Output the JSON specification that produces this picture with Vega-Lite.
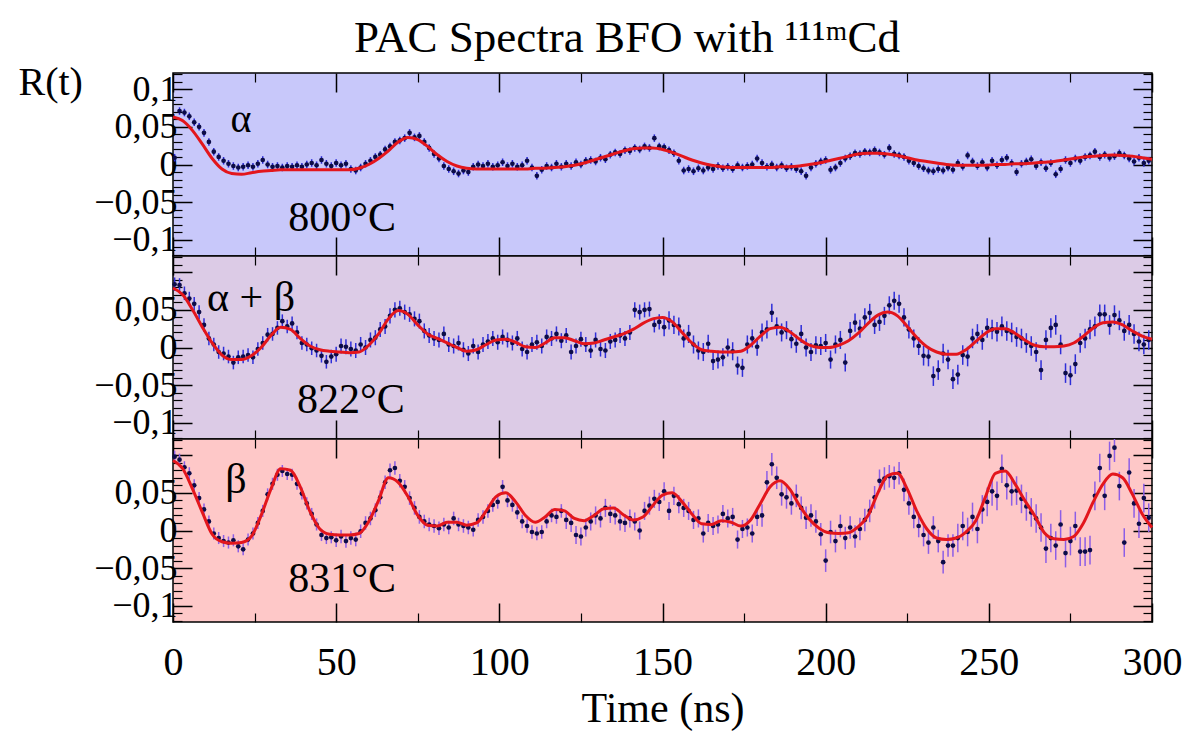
{
"$schema":"https://vega.github.io/schema/vega-lite/v6.json",
"padding":{"left":17,"top":16,"right":6,"bottom":4},
"title":{"text":"PAC Spectra BFO with ¹¹¹ᵐCd","font":"Liberation Serif","fontSize":45,"fontWeight":"normal","color":"black","anchor":"middle","frame":"bounds","offset":-36,"baseline":"alphabetic","dx":27},
"spacing":0,
"bounds":"flush",
"config":{"axis":{"domain":false,"grid":false,"tickColor":"black","labelColor":"black","titleColor":"black","labelFont":"Liberation Serif","titleFont":"Liberation Serif","labelFontWeight":"normal","titleFontWeight":"normal","minExtent":0,"labelOverlap":false,"labelFlush":false,"labelBound":false}},
"datasets":{
"a":[{"t":0.5,"r":0.009,"e":0.005},{"t":2,"r":0.071,"e":0.005},{"t":3.5,"r":0.069,"e":0.005},{"t":5,"r":0.064,"e":0.005},{"t":6.5,"r":0.056,"e":0.005},{"t":8,"r":0.05,"e":0.005},{"t":9.5,"r":0.042,"e":0.005},{"t":11,"r":0.03,"e":0.005},{"t":12.5,"r":0.017,"e":0.005},{"t":14,"r":0.01,"e":0.005},{"t":15.5,"r":0.005,"e":0.005},{"t":17,"r":0.001,"e":0.005},{"t":18.5,"r":-0.002,"e":0.005},{"t":20,"r":-0.004,"e":0.005},{"t":21.5,"r":-0.003,"e":0.005},{"t":23,"r":-0.001,"e":0.005},{"t":24.5,"r":-0.003,"e":0.005},{"t":26,"r":0.001,"e":0.005},{"t":27.5,"r":0.006,"e":0.005},{"t":29,"r":0.0,"e":0.005},{"t":30.5,"r":-0.003,"e":0.005},{"t":32,"r":-0.002,"e":0.005},{"t":33.5,"r":-0.004,"e":0.005},{"t":35,"r":-0.002,"e":0.005},{"t":36.5,"r":-0.003,"e":0.005},{"t":38,"r":-0.001,"e":0.005},{"t":39.5,"r":-0.003,"e":0.005},{"t":41,"r":0.0,"e":0.005},{"t":42.5,"r":0.002,"e":0.005},{"t":44,"r":-0.001,"e":0.005},{"t":45.5,"r":0.006,"e":0.005},{"t":47,"r":0.001,"e":0.005},{"t":48.5,"r":-0.002,"e":0.005},{"t":50,"r":0.002,"e":0.005},{"t":51.5,"r":-0.001,"e":0.005},{"t":53,"r":0.001,"e":0.005},{"t":54.5,"r":-0.006,"e":0.005},{"t":56,"r":-0.008,"e":0.005},{"t":57.5,"r":-0.004,"e":0.005},{"t":59,"r":0.001,"e":0.005},{"t":60.5,"r":0.005,"e":0.005},{"t":62,"r":0.01,"e":0.005},{"t":63.5,"r":0.013,"e":0.005},{"t":65,"r":0.02,"e":0.005},{"t":66.5,"r":0.024,"e":0.005},{"t":68,"r":0.03,"e":0.005},{"t":69.5,"r":0.032,"e":0.005},{"t":71,"r":0.035,"e":0.005},{"t":72.5,"r":0.042,"e":0.005},{"t":74,"r":0.036,"e":0.005},{"t":75.5,"r":0.038,"e":0.005},{"t":77,"r":0.03,"e":0.005},{"t":78.5,"r":0.022,"e":0.005},{"t":80,"r":0.014,"e":0.005},{"t":81.5,"r":0.008,"e":0.005},{"t":83,"r":-0.002,"e":0.005},{"t":84.5,"r":-0.006,"e":0.005},{"t":86,"r":-0.009,"e":0.005},{"t":87.5,"r":-0.012,"e":0.005},{"t":89,"r":-0.008,"e":0.005},{"t":90.5,"r":-0.01,"e":0.005},{"t":92,"r":-0.003,"e":0.005},{"t":93.5,"r":0.0,"e":0.005},{"t":95,"r":-0.002,"e":0.005},{"t":96.5,"r":0.001,"e":0.005},{"t":98,"r":-0.003,"e":0.005},{"t":99.5,"r":-0.001,"e":0.005},{"t":101,"r":0.003,"e":0.005},{"t":102.5,"r":-0.002,"e":0.005},{"t":104,"r":0.001,"e":0.005},{"t":105.5,"r":-0.003,"e":0.005},{"t":107,"r":-0.001,"e":0.005},{"t":108.5,"r":0.005,"e":0.005},{"t":110,"r":-0.004,"e":0.005},{"t":111.5,"r":-0.015,"e":0.005},{"t":113,"r":-0.007,"e":0.005},{"t":114.5,"r":-0.002,"e":0.005},{"t":116,"r":-0.004,"e":0.005},{"t":117.5,"r":0.001,"e":0.005},{"t":119,"r":-0.003,"e":0.005},{"t":120.5,"r":0.001,"e":0.005},{"t":122,"r":-0.002,"e":0.005},{"t":123.5,"r":0.003,"e":0.005},{"t":125,"r":0.0,"e":0.005},{"t":126.5,"r":0.005,"e":0.005},{"t":128,"r":0.006,"e":0.005},{"t":129.5,"r":0.004,"e":0.005},{"t":131,"r":0.009,"e":0.005},{"t":132.5,"r":0.007,"e":0.005},{"t":134,"r":0.013,"e":0.005},{"t":135.5,"r":0.016,"e":0.005},{"t":137,"r":0.014,"e":0.005},{"t":138.5,"r":0.019,"e":0.005},{"t":140,"r":0.018,"e":0.005},{"t":141.5,"r":0.022,"e":0.005},{"t":143,"r":0.02,"e":0.005},{"t":144.5,"r":0.024,"e":0.005},{"t":146,"r":0.022,"e":0.005},{"t":147.5,"r":0.035,"e":0.005},{"t":149,"r":0.024,"e":0.005},{"t":150.5,"r":0.023,"e":0.005},{"t":152,"r":0.019,"e":0.005},{"t":153.5,"r":0.015,"e":0.005},{"t":155,"r":0.005,"e":0.005},{"t":156.5,"r":-0.008,"e":0.005},{"t":158,"r":-0.006,"e":0.005},{"t":159.5,"r":-0.009,"e":0.005},{"t":161,"r":-0.005,"e":0.005},{"t":162.5,"r":-0.008,"e":0.005},{"t":164,"r":-0.004,"e":0.005},{"t":165.5,"r":-0.006,"e":0.005},{"t":167,"r":-0.002,"e":0.005},{"t":168.5,"r":-0.005,"e":0.005},{"t":170,"r":-0.003,"e":0.005},{"t":171.5,"r":-0.006,"e":0.005},{"t":173,"r":-0.001,"e":0.005},{"t":174.5,"r":-0.004,"e":0.005},{"t":176,"r":-0.002,"e":0.005},{"t":177.5,"r":0.0,"e":0.005},{"t":179,"r":0.008,"e":0.005},{"t":180.5,"r":0.002,"e":0.005},{"t":182,"r":-0.003,"e":0.005},{"t":183.5,"r":0.0,"e":0.005},{"t":185,"r":-0.004,"e":0.005},{"t":186.5,"r":-0.001,"e":0.005},{"t":188,"r":-0.005,"e":0.005},{"t":189.5,"r":-0.003,"e":0.005},{"t":191,"r":-0.006,"e":0.005},{"t":192.5,"r":-0.009,"e":0.005},{"t":194,"r":-0.015,"e":0.005},{"t":195.5,"r":-0.004,"e":0.005},{"t":197,"r":0.001,"e":0.005},{"t":198.5,"r":0.004,"e":0.005},{"t":200,"r":0.006,"e":0.005},{"t":201.5,"r":-0.007,"e":0.005},{"t":203,"r":-0.004,"e":0.005},{"t":204.5,"r":0.002,"e":0.005},{"t":206,"r":0.008,"e":0.005},{"t":207.5,"r":0.011,"e":0.005},{"t":209,"r":0.015,"e":0.005},{"t":210.5,"r":0.014,"e":0.005},{"t":212,"r":0.017,"e":0.005},{"t":213.5,"r":0.016,"e":0.005},{"t":215,"r":0.019,"e":0.005},{"t":216.5,"r":0.016,"e":0.005},{"t":218,"r":0.013,"e":0.005},{"t":219.5,"r":0.022,"e":0.005},{"t":221,"r":0.014,"e":0.005},{"t":222.5,"r":0.012,"e":0.005},{"t":224,"r":0.01,"e":0.005},{"t":225.5,"r":0.005,"e":0.005},{"t":227,"r":0.002,"e":0.005},{"t":228.5,"r":-0.002,"e":0.005},{"t":230,"r":-0.005,"e":0.005},{"t":231.5,"r":-0.008,"e":0.005},{"t":233,"r":-0.009,"e":0.005},{"t":234.5,"r":-0.006,"e":0.005},{"t":236,"r":-0.008,"e":0.005},{"t":237.5,"r":-0.004,"e":0.005},{"t":239,"r":-0.007,"e":0.005},{"t":240.5,"r":0.002,"e":0.005},{"t":242,"r":-0.003,"e":0.005},{"t":243.5,"r":0.012,"e":0.005},{"t":245,"r":0.004,"e":0.005},{"t":246.5,"r":-0.002,"e":0.005},{"t":248,"r":0.003,"e":0.005},{"t":249.5,"r":-0.004,"e":0.005},{"t":251,"r":0.005,"e":0.005},{"t":252.5,"r":-0.001,"e":0.005},{"t":254,"r":0.006,"e":0.005},{"t":255.5,"r":0.009,"e":0.005},{"t":257,"r":0.002,"e":0.005},{"t":258.5,"r":-0.01,"e":0.005},{"t":260,"r":0.001,"e":0.005},{"t":261.5,"r":0.004,"e":0.005},{"t":263,"r":0.007,"e":0.005},{"t":264.5,"r":-0.002,"e":0.005},{"t":266,"r":0.003,"e":0.005},{"t":267.5,"r":-0.005,"e":0.005},{"t":269,"r":0.002,"e":0.005},{"t":270.5,"r":-0.013,"e":0.005},{"t":272,"r":-0.006,"e":0.005},{"t":273.5,"r":0.006,"e":0.005},{"t":275,"r":0.002,"e":0.005},{"t":276.5,"r":0.008,"e":0.005},{"t":278,"r":0.005,"e":0.005},{"t":279.5,"r":0.01,"e":0.005},{"t":281,"r":0.012,"e":0.005},{"t":282.5,"r":0.017,"e":0.005},{"t":284,"r":0.01,"e":0.005},{"t":285.5,"r":0.013,"e":0.005},{"t":287,"r":0.009,"e":0.005},{"t":288.5,"r":0.011,"e":0.005},{"t":290,"r":0.015,"e":0.005},{"t":291.5,"r":0.012,"e":0.005},{"t":293,"r":0.008,"e":0.005},{"t":294.5,"r":0.004,"e":0.005},{"t":296,"r":0.009,"e":0.005},{"t":297.5,"r":0.002,"e":0.005},{"t":299,"r":0.005,"e":0.005}],
"fa":[{"t":0,"r":0.063},{"t":3,"r":0.058},{"t":6,"r":0.045},{"t":9,"r":0.027},{"t":12,"r":0.008},{"t":15,"r":-0.006},{"t":18,"r":-0.012},{"t":21,"r":-0.013},{"t":24,"r":-0.011},{"t":27,"r":-0.009},{"t":30,"r":-0.008},{"t":33,"r":-0.007},{"t":36,"r":-0.007},{"t":39,"r":-0.007},{"t":42,"r":-0.007},{"t":45,"r":-0.007},{"t":48,"r":-0.007},{"t":51,"r":-0.007},{"t":54,"r":-0.007},{"t":57,"r":-0.005},{"t":60,"r":0.0},{"t":63,"r":0.008},{"t":66,"r":0.018},{"t":69,"r":0.03},{"t":72,"r":0.036},{"t":75,"r":0.033},{"t":78,"r":0.024},{"t":81,"r":0.013},{"t":84,"r":0.004},{"t":87,"r":-0.002},{"t":90,"r":-0.005},{"t":93,"r":-0.006},{"t":96,"r":-0.006},{"t":99,"r":-0.006},{"t":102,"r":-0.006},{"t":105,"r":-0.006},{"t":108,"r":-0.006},{"t":111,"r":-0.005},{"t":114,"r":-0.005},{"t":117,"r":-0.004},{"t":120,"r":-0.003},{"t":123,"r":-0.001},{"t":126,"r":0.002},{"t":129,"r":0.006},{"t":132,"r":0.01},{"t":135,"r":0.014},{"t":138,"r":0.018},{"t":141,"r":0.021},{"t":144,"r":0.022},{"t":147,"r":0.022},{"t":150,"r":0.02},{"t":153,"r":0.016},{"t":156,"r":0.011},{"t":159,"r":0.006},{"t":162,"r":0.002},{"t":165,"r":-0.001},{"t":168,"r":-0.003},{"t":171,"r":-0.004},{"t":174,"r":-0.004},{"t":177,"r":-0.004},{"t":180,"r":-0.004},{"t":183,"r":-0.004},{"t":186,"r":-0.003},{"t":189,"r":-0.003},{"t":192,"r":-0.002},{"t":195,"r":0.0},{"t":198,"r":0.002},{"t":201,"r":0.005},{"t":204,"r":0.008},{"t":207,"r":0.011},{"t":210,"r":0.014},{"t":213,"r":0.015},{"t":216,"r":0.015},{"t":219,"r":0.014},{"t":222,"r":0.012},{"t":225,"r":0.009},{"t":228,"r":0.006},{"t":231,"r":0.004},{"t":234,"r":0.002},{"t":237,"r":0.0},{"t":240,"r":-0.001},{"t":243,"r":-0.001},{"t":246,"r":-0.001},{"t":249,"r":-0.001},{"t":252,"r":0.0},{"t":255,"r":0.0},{"t":258,"r":0.001},{"t":261,"r":0.001},{"t":264,"r":0.002},{"t":267,"r":0.003},{"t":270,"r":0.004},{"t":273,"r":0.006},{"t":276,"r":0.008},{"t":279,"r":0.01},{"t":282,"r":0.011},{"t":285,"r":0.012},{"t":288,"r":0.0125},{"t":291,"r":0.012},{"t":294,"r":0.011},{"t":297,"r":0.009},{"t":300,"r":0.007}],
"ab":[{"t":0.5,"r":0.084,"e":0.009},{"t":2,"r":0.083,"e":0.009},{"t":3.5,"r":0.072,"e":0.009},{"t":5,"r":0.065,"e":0.009},{"t":6.5,"r":0.058,"e":0.009},{"t":8,"r":0.047,"e":0.009},{"t":9.5,"r":0.03,"e":0.009},{"t":11,"r":0.012,"e":0.009},{"t":12.5,"r":0.004,"e":0.009},{"t":14,"r":-0.006,"e":0.009},{"t":15.5,"r":-0.008,"e":0.009},{"t":17,"r":-0.012,"e":0.009},{"t":18.5,"r":-0.02,"e":0.009},{"t":20,"r":-0.013,"e":0.009},{"t":21.5,"r":-0.012,"e":0.009},{"t":23,"r":-0.01,"e":0.009},{"t":24.5,"r":-0.013,"e":0.009},{"t":26,"r":-0.002,"e":0.009},{"t":27.5,"r":0.006,"e":0.009},{"t":29,"r":0.017,"e":0.009},{"t":30.5,"r":0.018,"e":0.009},{"t":32,"r":0.026,"e":0.009},{"t":33.5,"r":0.035,"e":0.009},{"t":35,"r":0.028,"e":0.009},{"t":36.5,"r":0.032,"e":0.009},{"t":38,"r":0.02,"e":0.009},{"t":39.5,"r":0.006,"e":0.009},{"t":41,"r":0.004,"e":0.009},{"t":42.5,"r":-0.001,"e":0.009},{"t":44,"r":-0.004,"e":0.009},{"t":45.5,"r":-0.011,"e":0.009},{"t":47,"r":-0.019,"e":0.009},{"t":48.5,"r":-0.012,"e":0.009},{"t":50,"r":-0.009,"e":0.01},{"t":51.5,"r":0.002,"e":0.01},{"t":53,"r":0.001,"e":0.01},{"t":54.5,"r":-0.002,"e":0.01},{"t":56,"r":-0.004,"e":0.01},{"t":57.5,"r":0.004,"e":0.01},{"t":59,"r":0.0,"e":0.01},{"t":60.5,"r":0.01,"e":0.01},{"t":62,"r":0.013,"e":0.01},{"t":63.5,"r":0.024,"e":0.01},{"t":65,"r":0.028,"e":0.01},{"t":66.5,"r":0.042,"e":0.01},{"t":68,"r":0.05,"e":0.01},{"t":69.5,"r":0.052,"e":0.01},{"t":71,"r":0.047,"e":0.01},{"t":72.5,"r":0.044,"e":0.01},{"t":74,"r":0.038,"e":0.01},{"t":75.5,"r":0.035,"e":0.01},{"t":77,"r":0.022,"e":0.01},{"t":78.5,"r":0.016,"e":0.01},{"t":80,"r":0.012,"e":0.01},{"t":81.5,"r":0.01,"e":0.01},{"t":83,"r":0.018,"e":0.01},{"t":84.5,"r":0.004,"e":0.01},{"t":86,"r":0.002,"e":0.01},{"t":87.5,"r":0.006,"e":0.01},{"t":89,"r":-0.003,"e":0.01},{"t":90.5,"r":-0.008,"e":0.01},{"t":92,"r":0.002,"e":0.01},{"t":93.5,"r":-0.006,"e":0.01},{"t":95,"r":0.004,"e":0.01},{"t":96.5,"r":0.008,"e":0.01},{"t":98,"r":0.012,"e":0.01},{"t":99.5,"r":0.007,"e":0.01},{"t":101,"r":0.014,"e":0.01},{"t":102.5,"r":0.01,"e":0.01},{"t":104,"r":0.006,"e":0.01},{"t":105.5,"r":0.012,"e":0.01},{"t":107,"r":-0.002,"e":0.01},{"t":108.5,"r":-0.006,"e":0.01},{"t":110,"r":0.004,"e":0.01},{"t":111.5,"r":0.007,"e":0.01},{"t":113,"r":0.002,"e":0.01},{"t":114.5,"r":0.014,"e":0.01},{"t":116,"r":0.012,"e":0.01},{"t":117.5,"r":0.018,"e":0.01},{"t":119,"r":0.009,"e":0.01},{"t":120.5,"r":0.016,"e":0.01},{"t":122,"r":-0.006,"e":0.01},{"t":123.5,"r":0.002,"e":0.01},{"t":125,"r":0.011,"e":0.01},{"t":126.5,"r":0.004,"e":0.01},{"t":128,"r":-0.004,"e":0.01},{"t":129.5,"r":0.01,"e":0.01},{"t":131,"r":-0.002,"e":0.01},{"t":132.5,"r":-0.004,"e":0.01},{"t":134,"r":0.008,"e":0.01},{"t":135.5,"r":0.01,"e":0.01},{"t":137,"r":0.016,"e":0.01},{"t":138.5,"r":0.012,"e":0.01},{"t":140,"r":0.02,"e":0.01},{"t":141.5,"r":0.05,"e":0.01},{"t":143,"r":0.047,"e":0.01},{"t":144.5,"r":0.05,"e":0.01},{"t":146,"r":0.051,"e":0.01},{"t":147.5,"r":0.03,"e":0.01},{"t":149,"r":0.034,"e":0.01},{"t":150.5,"r":0.027,"e":0.012},{"t":152,"r":0.036,"e":0.012},{"t":153.5,"r":0.03,"e":0.012},{"t":155,"r":0.028,"e":0.012},{"t":156.5,"r":0.012,"e":0.012},{"t":158,"r":0.018,"e":0.012},{"t":159.5,"r":0.004,"e":0.012},{"t":161,"r":-0.004,"e":0.012},{"t":162.5,"r":-0.006,"e":0.012},{"t":164,"r":0.005,"e":0.012},{"t":165.5,"r":-0.018,"e":0.012},{"t":167,"r":-0.016,"e":0.012},{"t":168.5,"r":-0.013,"e":0.012},{"t":170,"r":0.0,"e":0.012},{"t":171.5,"r":-0.005,"e":0.012},{"t":173,"r":-0.024,"e":0.012},{"t":174.5,"r":-0.027,"e":0.012},{"t":176,"r":0.004,"e":0.012},{"t":177.5,"r":0.012,"e":0.012},{"t":179,"r":0.001,"e":0.012},{"t":180.5,"r":0.02,"e":0.012},{"t":182,"r":0.024,"e":0.012},{"t":183.5,"r":0.046,"e":0.012},{"t":185,"r":0.028,"e":0.012},{"t":186.5,"r":0.02,"e":0.012},{"t":188,"r":0.023,"e":0.012},{"t":189.5,"r":0.011,"e":0.012},{"t":191,"r":0.005,"e":0.012},{"t":192.5,"r":0.018,"e":0.012},{"t":194,"r":0.0,"e":0.012},{"t":195.5,"r":-0.006,"e":0.012},{"t":197,"r":0.003,"e":0.012},{"t":198.5,"r":0.002,"e":0.012},{"t":200,"r":0.006,"e":0.012},{"t":201.5,"r":-0.016,"e":0.012},{"t":203,"r":0.004,"e":0.012},{"t":204.5,"r":0.01,"e":0.012},{"t":206,"r":-0.02,"e":0.012},{"t":207.5,"r":0.022,"e":0.012},{"t":209,"r":0.033,"e":0.012},{"t":210.5,"r":0.025,"e":0.012},{"t":212,"r":0.04,"e":0.012},{"t":213.5,"r":0.046,"e":0.012},{"t":215,"r":0.03,"e":0.012},{"t":216.5,"r":0.034,"e":0.012},{"t":218,"r":0.042,"e":0.012},{"t":219.5,"r":0.056,"e":0.012},{"t":221,"r":0.062,"e":0.012},{"t":222.5,"r":0.058,"e":0.012},{"t":224,"r":0.04,"e":0.012},{"t":225.5,"r":0.024,"e":0.012},{"t":227,"r":0.012,"e":0.012},{"t":228.5,"r":0.002,"e":0.012},{"t":230,"r":-0.011,"e":0.013},{"t":231.5,"r":-0.012,"e":0.013},{"t":233,"r":-0.038,"e":0.013},{"t":234.5,"r":-0.03,"e":0.013},{"t":236,"r":-0.008,"e":0.013},{"t":237.5,"r":-0.016,"e":0.013},{"t":239,"r":-0.042,"e":0.013},{"t":240.5,"r":-0.036,"e":0.013},{"t":242,"r":-0.01,"e":0.013},{"t":243.5,"r":-0.012,"e":0.013},{"t":245,"r":0.012,"e":0.013},{"t":246.5,"r":0.018,"e":0.013},{"t":248,"r":0.01,"e":0.013},{"t":249.5,"r":0.026,"e":0.013},{"t":251,"r":0.024,"e":0.013},{"t":252.5,"r":0.021,"e":0.013},{"t":254,"r":0.028,"e":0.013},{"t":255.5,"r":0.022,"e":0.013},{"t":257,"r":0.02,"e":0.013},{"t":258.5,"r":0.014,"e":0.013},{"t":260,"r":0.012,"e":0.013},{"t":261.5,"r":0.006,"e":0.013},{"t":263,"r":0.002,"e":0.013},{"t":264.5,"r":-0.006,"e":0.013},{"t":266,"r":-0.03,"e":0.013},{"t":267.5,"r":0.01,"e":0.013},{"t":269,"r":0.026,"e":0.013},{"t":270.5,"r":0.03,"e":0.013},{"t":272,"r":0.004,"e":0.013},{"t":273.5,"r":-0.034,"e":0.013},{"t":275,"r":-0.037,"e":0.013},{"t":276.5,"r":-0.022,"e":0.013},{"t":278,"r":0.006,"e":0.013},{"t":279.5,"r":0.012,"e":0.013},{"t":281,"r":0.024,"e":0.013},{"t":282.5,"r":0.028,"e":0.013},{"t":284,"r":0.044,"e":0.013},{"t":285.5,"r":0.044,"e":0.013},{"t":287,"r":0.03,"e":0.013},{"t":288.5,"r":0.043,"e":0.013},{"t":290,"r":0.036,"e":0.013},{"t":291.5,"r":0.022,"e":0.013},{"t":293,"r":0.03,"e":0.013},{"t":294.5,"r":0.018,"e":0.013},{"t":296,"r":0.008,"e":0.013},{"t":297.5,"r":0.004,"e":0.013},{"t":299,"r":0.01,"e":0.013}],
"fab":[{"t":0,"r":0.079},{"t":3,"r":0.07},{"t":6,"r":0.05},{"t":9,"r":0.027},{"t":12,"r":0.006},{"t":15,"r":-0.01},{"t":18,"r":-0.016},{"t":21,"r":-0.016},{"t":24,"r":-0.011},{"t":27,"r":0.0},{"t":30,"r":0.016},{"t":33,"r":0.027},{"t":36,"r":0.024},{"t":39,"r":0.012},{"t":42,"r":0.002},{"t":45,"r":-0.003},{"t":48,"r":-0.005},{"t":51,"r":-0.006},{"t":54,"r":-0.007},{"t":57,"r":-0.006},{"t":60,"r":0.003},{"t":63,"r":0.018},{"t":66,"r":0.038},{"t":69,"r":0.049},{"t":72,"r":0.044},{"t":75,"r":0.03},{"t":78,"r":0.018},{"t":81,"r":0.012},{"t":84,"r":0.006},{"t":87,"r":0.0},{"t":90,"r":-0.005},{"t":93,"r":-0.003},{"t":96,"r":0.004},{"t":99,"r":0.01},{"t":102,"r":0.011},{"t":105,"r":0.007},{"t":108,"r":0.001},{"t":111,"r":0.0},{"t":114,"r":0.006},{"t":117,"r":0.013},{"t":120,"r":0.013},{"t":123,"r":0.009},{"t":126,"r":0.005},{"t":129,"r":0.006},{"t":132,"r":0.01},{"t":135,"r":0.014},{"t":138,"r":0.018},{"t":141,"r":0.024},{"t":144,"r":0.032},{"t":147,"r":0.038},{"t":150,"r":0.04},{"t":153,"r":0.034},{"t":156,"r":0.02},{"t":159,"r":0.006},{"t":162,"r":-0.003},{"t":165,"r":-0.005},{"t":168,"r":-0.006},{"t":171,"r":-0.006},{"t":174,"r":-0.005},{"t":177,"r":0.003},{"t":180,"r":0.015},{"t":183,"r":0.025},{"t":186,"r":0.027},{"t":189,"r":0.021},{"t":192,"r":0.011},{"t":195,"r":0.003},{"t":198,"r":0.0},{"t":201,"r":0.0},{"t":204,"r":0.003},{"t":207,"r":0.009},{"t":210,"r":0.019},{"t":213,"r":0.032},{"t":216,"r":0.043},{"t":219,"r":0.047},{"t":222,"r":0.042},{"t":225,"r":0.028},{"t":228,"r":0.013},{"t":231,"r":0.001},{"t":234,"r":-0.006},{"t":237,"r":-0.009},{"t":240,"r":-0.009},{"t":243,"r":-0.003},{"t":246,"r":0.008},{"t":249,"r":0.019},{"t":252,"r":0.025},{"t":255,"r":0.025},{"t":258,"r":0.019},{"t":261,"r":0.01},{"t":264,"r":0.003},{"t":267,"r":0.001},{"t":270,"r":0.001},{"t":273,"r":0.002},{"t":276,"r":0.006},{"t":279,"r":0.015},{"t":282,"r":0.026},{"t":285,"r":0.033},{"t":288,"r":0.034},{"t":291,"r":0.03},{"t":294,"r":0.022},{"t":297,"r":0.015},{"t":300,"r":0.011}],
"b":[{"t":0.5,"r":0.098,"e":0.008},{"t":2,"r":0.094,"e":0.008},{"t":3.5,"r":0.084,"e":0.008},{"t":5,"r":0.076,"e":0.008},{"t":6.5,"r":0.06,"e":0.008},{"t":8,"r":0.043,"e":0.008},{"t":9.5,"r":0.028,"e":0.008},{"t":11,"r":0.012,"e":0.008},{"t":12.5,"r":-0.004,"e":0.008},{"t":14,"r":-0.01,"e":0.008},{"t":15.5,"r":-0.014,"e":0.008},{"t":17,"r":-0.016,"e":0.008},{"t":18.5,"r":-0.013,"e":0.008},{"t":20,"r":-0.021,"e":0.008},{"t":21.5,"r":-0.025,"e":0.008},{"t":23,"r":-0.012,"e":0.008},{"t":24.5,"r":-0.004,"e":0.008},{"t":26,"r":0.01,"e":0.008},{"t":27.5,"r":0.026,"e":0.008},{"t":29,"r":0.048,"e":0.008},{"t":30.5,"r":0.062,"e":0.008},{"t":32,"r":0.074,"e":0.008},{"t":33.5,"r":0.079,"e":0.008},{"t":35,"r":0.075,"e":0.008},{"t":36.5,"r":0.074,"e":0.008},{"t":38,"r":0.062,"e":0.008},{"t":39.5,"r":0.049,"e":0.008},{"t":41,"r":0.036,"e":0.008},{"t":42.5,"r":0.022,"e":0.008},{"t":44,"r":0.008,"e":0.008},{"t":45.5,"r":-0.006,"e":0.008},{"t":47,"r":-0.01,"e":0.008},{"t":48.5,"r":-0.009,"e":0.008},{"t":50,"r":-0.013,"e":0.009},{"t":51.5,"r":-0.008,"e":0.009},{"t":53,"r":-0.014,"e":0.009},{"t":54.5,"r":-0.01,"e":0.009},{"t":56,"r":-0.012,"e":0.009},{"t":57.5,"r":-0.001,"e":0.009},{"t":59,"r":0.01,"e":0.009},{"t":60.5,"r":0.016,"e":0.009},{"t":62,"r":0.027,"e":0.009},{"t":63.5,"r":0.044,"e":0.009},{"t":65,"r":0.064,"e":0.009},{"t":66.5,"r":0.08,"e":0.009},{"t":68,"r":0.083,"e":0.009},{"t":69.5,"r":0.066,"e":0.009},{"t":71,"r":0.058,"e":0.009},{"t":72.5,"r":0.043,"e":0.009},{"t":74,"r":0.03,"e":0.009},{"t":75.5,"r":0.018,"e":0.009},{"t":77,"r":0.012,"e":0.009},{"t":78.5,"r":0.008,"e":0.009},{"t":80,"r":0.006,"e":0.009},{"t":81.5,"r":0.003,"e":0.009},{"t":83,"r":0.008,"e":0.009},{"t":84.5,"r":0.004,"e":0.009},{"t":86,"r":0.016,"e":0.009},{"t":87.5,"r":0.008,"e":0.009},{"t":89,"r":0.006,"e":0.009},{"t":90.5,"r":0.004,"e":0.009},{"t":92,"r":0.001,"e":0.009},{"t":93.5,"r":0.014,"e":0.009},{"t":95,"r":0.018,"e":0.009},{"t":96.5,"r":0.026,"e":0.009},{"t":98,"r":0.034,"e":0.009},{"t":99.5,"r":0.038,"e":0.009},{"t":101,"r":0.058,"e":0.009},{"t":102.5,"r":0.04,"e":0.009},{"t":104,"r":0.034,"e":0.009},{"t":105.5,"r":0.024,"e":0.009},{"t":107,"r":0.012,"e":0.009},{"t":108.5,"r":0.006,"e":0.009},{"t":110,"r":-0.002,"e":0.009},{"t":111.5,"r":-0.004,"e":0.009},{"t":113,"r":-0.002,"e":0.009},{"t":114.5,"r":0.012,"e":0.009},{"t":116,"r":0.02,"e":0.009},{"t":117.5,"r":0.018,"e":0.009},{"t":119,"r":0.026,"e":0.009},{"t":120.5,"r":0.014,"e":0.012},{"t":122,"r":0.01,"e":0.012},{"t":123.5,"r":-0.006,"e":0.012},{"t":125,"r":-0.008,"e":0.012},{"t":126.5,"r":0.004,"e":0.012},{"t":128,"r":0.012,"e":0.012},{"t":129.5,"r":0.02,"e":0.012},{"t":131,"r":0.016,"e":0.012},{"t":132.5,"r":0.03,"e":0.012},{"t":134,"r":0.022,"e":0.012},{"t":135.5,"r":0.02,"e":0.012},{"t":137,"r":0.012,"e":0.012},{"t":138.5,"r":0.01,"e":0.012},{"t":140,"r":0.016,"e":0.012},{"t":141.5,"r":0.012,"e":0.012},{"t":143,"r":0.0,"e":0.012},{"t":144.5,"r":0.026,"e":0.012},{"t":146,"r":0.033,"e":0.012},{"t":147.5,"r":0.042,"e":0.012},{"t":149,"r":0.038,"e":0.012},{"t":150.5,"r":0.052,"e":0.012},{"t":152,"r":0.026,"e":0.012},{"t":153.5,"r":0.046,"e":0.012},{"t":155,"r":0.035,"e":0.012},{"t":156.5,"r":0.03,"e":0.012},{"t":158,"r":0.026,"e":0.012},{"t":159.5,"r":0.014,"e":0.012},{"t":161,"r":0.016,"e":0.012},{"t":162.5,"r":-0.004,"e":0.012},{"t":164,"r":0.01,"e":0.012},{"t":165.5,"r":0.006,"e":0.012},{"t":167,"r":0.008,"e":0.012},{"t":168.5,"r":0.022,"e":0.012},{"t":170,"r":0.016,"e":0.012},{"t":171.5,"r":0.018,"e":0.012},{"t":173,"r":-0.012,"e":0.012},{"t":174.5,"r":0.002,"e":0.012},{"t":176,"r":0.004,"e":0.012},{"t":177.5,"r":-0.004,"e":0.012},{"t":179,"r":0.018,"e":0.012},{"t":180.5,"r":0.02,"e":0.015},{"t":182,"r":0.064,"e":0.015},{"t":183.5,"r":0.088,"e":0.015},{"t":185,"r":0.07,"e":0.015},{"t":186.5,"r":0.048,"e":0.015},{"t":188,"r":0.044,"e":0.015},{"t":189.5,"r":0.036,"e":0.015},{"t":191,"r":0.046,"e":0.015},{"t":192.5,"r":0.03,"e":0.015},{"t":194,"r":0.017,"e":0.015},{"t":195.5,"r":0.02,"e":0.015},{"t":197,"r":0.012,"e":0.015},{"t":198.5,"r":-0.005,"e":0.015},{"t":200,"r":-0.04,"e":0.015},{"t":201.5,"r":-0.002,"e":0.015},{"t":203,"r":-0.014,"e":0.015},{"t":204.5,"r":0.006,"e":0.015},{"t":206,"r":-0.01,"e":0.015},{"t":207.5,"r":0.004,"e":0.015},{"t":209,"r":-0.008,"e":0.015},{"t":210.5,"r":0.002,"e":0.015},{"t":212,"r":0.014,"e":0.015},{"t":213.5,"r":0.026,"e":0.015},{"t":215,"r":0.044,"e":0.015},{"t":216.5,"r":0.066,"e":0.015},{"t":218,"r":0.069,"e":0.015},{"t":219.5,"r":0.072,"e":0.015},{"t":221,"r":0.07,"e":0.015},{"t":222.5,"r":0.076,"e":0.015},{"t":224,"r":0.054,"e":0.015},{"t":225.5,"r":0.036,"e":0.015},{"t":227,"r":0.018,"e":0.015},{"t":228.5,"r":0.006,"e":0.015},{"t":230,"r":-0.006,"e":0.015},{"t":231.5,"r":-0.016,"e":0.015},{"t":233,"r":0.004,"e":0.015},{"t":234.5,"r":-0.014,"e":0.015},{"t":236,"r":-0.042,"e":0.015},{"t":237.5,"r":-0.02,"e":0.015},{"t":239,"r":-0.02,"e":0.015},{"t":240.5,"r":-0.01,"e":0.019},{"t":242,"r":0.006,"e":0.019},{"t":243.5,"r":-0.002,"e":0.019},{"t":245,"r":0.018,"e":0.019},{"t":246.5,"r":0.002,"e":0.019},{"t":248,"r":0.028,"e":0.019},{"t":249.5,"r":0.038,"e":0.019},{"t":251,"r":0.052,"e":0.019},{"t":252.5,"r":0.046,"e":0.019},{"t":254,"r":0.082,"e":0.019},{"t":255.5,"r":0.06,"e":0.019},{"t":257,"r":0.052,"e":0.019},{"t":258.5,"r":0.053,"e":0.019},{"t":260,"r":0.042,"e":0.019},{"t":261.5,"r":0.032,"e":0.019},{"t":263,"r":0.024,"e":0.019},{"t":264.5,"r":0.016,"e":0.019},{"t":266,"r":0.004,"e":0.019},{"t":267.5,"r":-0.024,"e":0.019},{"t":269,"r":-0.01,"e":0.019},{"t":270.5,"r":-0.02,"e":0.019},{"t":272,"r":0.008,"e":0.019},{"t":273.5,"r":-0.03,"e":0.019},{"t":275,"r":-0.014,"e":0.019},{"t":276.5,"r":0.006,"e":0.019},{"t":278,"r":-0.028,"e":0.019},{"t":279.5,"r":-0.028,"e":0.019},{"t":281,"r":-0.026,"e":0.019},{"t":282.5,"r":0.046,"e":0.019},{"t":284,"r":0.083,"e":0.019},{"t":285.5,"r":0.046,"e":0.019},{"t":287,"r":0.099,"e":0.019},{"t":288.5,"r":0.11,"e":0.019},{"t":290,"r":0.059,"e":0.019},{"t":291.5,"r":-0.016,"e":0.019},{"t":293,"r":0.077,"e":0.019},{"t":294.5,"r":0.036,"e":0.019},{"t":296,"r":0.009,"e":0.019},{"t":297.5,"r":0.043,"e":0.019},{"t":299,"r":0.017,"e":0.019}],
"fb":[{"t":0,"r":0.093},{"t":3,"r":0.082},{"t":6,"r":0.055},{"t":9,"r":0.024},{"t":12,"r":-0.005},{"t":15,"r":-0.015},{"t":18,"r":-0.017},{"t":21,"r":-0.016},{"t":24,"r":-0.008},{"t":27,"r":0.02},{"t":30,"r":0.055},{"t":33,"r":0.082},{"t":36,"r":0.08},{"t":39,"r":0.058},{"t":42,"r":0.025},{"t":45,"r":0.002},{"t":48,"r":-0.005},{"t":51,"r":-0.006},{"t":54,"r":-0.006},{"t":57,"r":-0.004},{"t":60,"r":0.012},{"t":63,"r":0.04},{"t":66,"r":0.07},{"t":69,"r":0.064},{"t":72,"r":0.045},{"t":75,"r":0.02},{"t":78,"r":0.007},{"t":81,"r":0.006},{"t":84,"r":0.011},{"t":87,"r":0.011},{"t":90,"r":0.007},{"t":93,"r":0.01},{"t":96,"r":0.026},{"t":99,"r":0.045},{"t":102,"r":0.05},{"t":105,"r":0.038},{"t":108,"r":0.02},{"t":111,"r":0.011},{"t":114,"r":0.018},{"t":117,"r":0.028},{"t":120,"r":0.026},{"t":123,"r":0.016},{"t":126,"r":0.013},{"t":129,"r":0.02},{"t":132,"r":0.029},{"t":135,"r":0.03},{"t":138,"r":0.021},{"t":141,"r":0.014},{"t":144,"r":0.018},{"t":147,"r":0.033},{"t":150,"r":0.047},{"t":153,"r":0.05},{"t":156,"r":0.038},{"t":159,"r":0.022},{"t":162,"r":0.009},{"t":165,"r":0.008},{"t":168,"r":0.013},{"t":171,"r":0.011},{"t":174,"r":0.006},{"t":177,"r":0.014},{"t":180,"r":0.036},{"t":183,"r":0.058},{"t":186,"r":0.066},{"t":189,"r":0.055},{"t":192,"r":0.033},{"t":195,"r":0.015},{"t":198,"r":0.003},{"t":201,"r":-0.003},{"t":204,"r":-0.004},{"t":207,"r":-0.003},{"t":210,"r":0.005},{"t":213,"r":0.02},{"t":216,"r":0.05},{"t":219,"r":0.073},{"t":222,"r":0.076},{"t":225,"r":0.055},{"t":228,"r":0.025},{"t":231,"r":0.002},{"t":234,"r":-0.01},{"t":237,"r":-0.012},{"t":240,"r":-0.01},{"t":243,"r":-0.002},{"t":246,"r":0.013},{"t":249,"r":0.045},{"t":252,"r":0.076},{"t":255,"r":0.079},{"t":258,"r":0.062},{"t":261,"r":0.04},{"t":264,"r":0.02},{"t":267,"r":-0.003},{"t":270,"r":-0.011},{"t":273,"r":-0.012},{"t":276,"r":-0.008},{"t":279,"r":0.01},{"t":282,"r":0.038},{"t":285,"r":0.062},{"t":288,"r":0.075},{"t":291,"r":0.07},{"t":294,"r":0.048},{"t":297,"r":0.022},{"t":300,"r":0.004}]
},
"vconcat":[
{"width":979,"height":183,"view":{"fill":"#c8c8fa","stroke":"black","strokeWidth":1.5},
"layer":[
{"data":{"name":"a"},"mark":{"type":"errorbar","color":"#2a2ad8","thickness":1.5,"clip":true},
"encoding":{"x":{"field":"t","type":"quantitative","scale":{"domain":[0,300],"nice":false,"zero":false},"axis":null},"y":{"field":"r","type":"quantitative","scale":{"domain":[-0.1215,0.1215],"nice":false,"zero":false},"axis":null},"yError":{"field":"e"}}},
{"data":{"name":"a"},"mark":{"type":"circle","size":22,"color":"#0c0c48","opacity":1},
"encoding":{"x":{"field":"t","type":"quantitative","scale":{"domain":[0,300],"nice":false,"zero":false},"axis":{"orient":"bottom","values":[0,50,100,150,200,250,300],"tickSize":-19,"tickWidth":1.5,"labels":false,"title":null}},
"y":{"field":"r","type":"quantitative","scale":{"domain":[-0.1215,0.1215],"nice":false,"zero":false},"axis":{"orient":"left","values":[-0.1,-0.05,0,0.05,0.1],"tickSize":-19,"tickWidth":1.5,"labelFontSize":36,"labelPadding":15,"labelBaseline":"middle","labelExpr":"replace(format(datum.value, '.2~f'), '.', ',')","title":"R(t)","titleAngle":0,"titleAlign":"left","titleBaseline":"alphabetic","titleX":-155,"titleY":21,"titleFontSize":40}}}},
{"data":{"name":"fa"},"mark":{"type":"line","color":"#e3161c","strokeWidth":3,"interpolate":"monotone"},
"encoding":{"x":{"field":"t","type":"quantitative","scale":{"domain":[0,300],"nice":false,"zero":false},"axis":{"orient":"bottom","values":[25,75,125,175,225,275],"tickSize":-9,"tickWidth":1.2,"labels":false,"title":null}},
"y":{"field":"r","type":"quantitative","scale":{"domain":[-0.1215,0.1215],"nice":false,"zero":false},"axis":{"orient":"left","values":[-0.12,-0.11,-0.09,-0.08,-0.07,-0.06,-0.04,-0.03,-0.02,-0.01,0.01,0.02,0.03,0.04,0.06,0.07,0.08,0.09,0.11,0.12],"tickSize":-9,"tickWidth":1.2,"labels":false,"title":null}}}},
{"data":{"values":[{}]},"mark":{"type":"text","text":"α","font":"Liberation Serif","fontSize":40,"color":"black"},
"encoding":{"x":{"datum":20.8,"type":"quantitative","scale":{"domain":[0,300],"nice":false,"zero":false},"axis":{"orient":"top","values":[0,50,100,150,200,250,300],"tickSize":-19,"tickWidth":1.5,"labels":false,"title":null}},
"y":{"datum":0.059,"type":"quantitative","scale":{"domain":[-0.1215,0.1215],"nice":false,"zero":false},"axis":{"orient":"right","values":[-0.1,-0.05,0,0.05,0.1],"tickSize":-19,"tickWidth":1.5,"labels":false,"title":null}}}},
{"data":{"values":[{}]},"mark":{"type":"text","text":"800°C","font":"Liberation Serif","fontSize":42,"color":"black"},
"encoding":{"x":{"datum":51.8,"type":"quantitative","scale":{"domain":[0,300],"nice":false,"zero":false},"axis":{"orient":"top","values":[25,75,125,175,225,275],"tickSize":-9,"tickWidth":1.2,"labels":false,"title":null}},
"y":{"datum":-0.071,"type":"quantitative","scale":{"domain":[-0.1215,0.1215],"nice":false,"zero":false},"axis":{"orient":"right","values":[-0.12,-0.11,-0.09,-0.08,-0.07,-0.06,-0.04,-0.03,-0.02,-0.01,0.01,0.02,0.03,0.04,0.06,0.07,0.08,0.09,0.11,0.12],"tickSize":-9,"tickWidth":1.2,"labels":false,"title":null}}}}
],
"resolve":{"axis":{"x":"independent","y":"independent"}}},
{"width":979,"height":183,"view":{"fill":"#dccbe6","stroke":"black","strokeWidth":1.5},
"layer":[
{"data":{"name":"ab"},"mark":{"type":"errorbar","color":"#2e2ed8","thickness":1.5,"clip":true},
"encoding":{"x":{"field":"t","type":"quantitative","scale":{"domain":[0,300],"nice":false,"zero":false},"axis":null},"y":{"field":"r","type":"quantitative","scale":{"domain":[-0.1215,0.1215],"nice":false,"zero":false},"axis":null},"yError":{"field":"e"}}},
{"data":{"name":"ab"},"mark":{"type":"circle","size":22,"color":"#0c0c48","opacity":1},
"encoding":{"x":{"field":"t","type":"quantitative","scale":{"domain":[0,300],"nice":false,"zero":false},"axis":{"orient":"bottom","values":[0,50,100,150,200,250,300],"tickSize":-19,"tickWidth":1.5,"labels":false,"title":null}},
"y":{"field":"r","type":"quantitative","scale":{"domain":[-0.1215,0.1215],"nice":false,"zero":false},"axis":{"orient":"left","values":[-0.1,-0.05,0,0.05,0.1],"tickSize":-19,"tickWidth":1.5,"labelFontSize":36,"labelPadding":15,"labelBaseline":"middle","labelExpr":"datum.value > 0.09 ? '' : replace(format(datum.value, '.2~f'), '.', ',')","title":null}}}},
{"data":{"name":"fab"},"mark":{"type":"line","color":"#e3161c","strokeWidth":3,"interpolate":"monotone"},
"encoding":{"x":{"field":"t","type":"quantitative","scale":{"domain":[0,300],"nice":false,"zero":false},"axis":{"orient":"bottom","values":[25,75,125,175,225,275],"tickSize":-9,"tickWidth":1.2,"labels":false,"title":null}},
"y":{"field":"r","type":"quantitative","scale":{"domain":[-0.1215,0.1215],"nice":false,"zero":false},"axis":{"orient":"left","values":[-0.12,-0.11,-0.09,-0.08,-0.07,-0.06,-0.04,-0.03,-0.02,-0.01,0.01,0.02,0.03,0.04,0.06,0.07,0.08,0.09,0.11,0.12],"tickSize":-9,"tickWidth":1.2,"labels":false,"title":null}}}},
{"data":{"values":[{}]},"mark":{"type":"text","text":"α + β","font":"Liberation Serif","fontSize":42,"color":"black"},
"encoding":{"x":{"datum":23.9,"type":"quantitative","scale":{"domain":[0,300],"nice":false,"zero":false},"axis":{"orient":"top","values":[0,50,100,150,200,250,300],"tickSize":-19,"tickWidth":1.5,"labels":false,"title":null}},
"y":{"datum":0.066,"type":"quantitative","scale":{"domain":[-0.1215,0.1215],"nice":false,"zero":false},"axis":{"orient":"right","values":[-0.1,-0.05,0,0.05,0.1],"tickSize":-19,"tickWidth":1.5,"labels":false,"title":null}}}},
{"data":{"values":[{}]},"mark":{"type":"text","text":"822°C","font":"Liberation Serif","fontSize":42,"color":"black"},
"encoding":{"x":{"datum":54.5,"type":"quantitative","scale":{"domain":[0,300],"nice":false,"zero":false},"axis":{"orient":"top","values":[25,75,125,175,225,275],"tickSize":-9,"tickWidth":1.2,"labels":false,"title":null}},
"y":{"datum":-0.07,"type":"quantitative","scale":{"domain":[-0.1215,0.1215],"nice":false,"zero":false},"axis":{"orient":"right","values":[-0.12,-0.11,-0.09,-0.08,-0.07,-0.06,-0.04,-0.03,-0.02,-0.01,0.01,0.02,0.03,0.04,0.06,0.07,0.08,0.09,0.11,0.12],"tickSize":-9,"tickWidth":1.2,"labels":false,"title":null}}}}
],
"resolve":{"axis":{"x":"independent","y":"independent"}}},
{"width":979,"height":183,"view":{"fill":"#fec8c8","stroke":"black","strokeWidth":1.5},
"layer":[
{"data":{"name":"b"},"mark":{"type":"errorbar","color":"#8c5ee6","thickness":1.5,"clip":true},
"encoding":{"x":{"field":"t","type":"quantitative","scale":{"domain":[0,300],"nice":false,"zero":false},"axis":null},"y":{"field":"r","type":"quantitative","scale":{"domain":[-0.1215,0.1215],"nice":false,"zero":false},"axis":null},"yError":{"field":"e"}}},
{"data":{"name":"b"},"mark":{"type":"circle","size":22,"color":"#0c0c48","opacity":1},
"encoding":{"x":{"field":"t","type":"quantitative","scale":{"domain":[0,300],"nice":false,"zero":false},"axis":{"orient":"bottom","values":[0,50,100,150,200,250,300],"tickSize":-19,"tickWidth":1.5,"labels":true,"labelFontSize":40,"labelPadding":39,"labelBaseline":"top","title":"Time (ns)","titleFontSize":42,"titleY":99,"titleBaseline":"alphabetic"}},
"y":{"field":"r","type":"quantitative","scale":{"domain":[-0.1215,0.1215],"nice":false,"zero":false},"axis":{"orient":"left","values":[-0.1,-0.05,0,0.05,0.1],"tickSize":-19,"tickWidth":1.5,"labelFontSize":36,"labelPadding":15,"labelBaseline":"middle","labelExpr":"datum.value > 0.09 ? '' : replace(format(datum.value, '.2~f'), '.', ',')","title":null}}}},
{"data":{"name":"fb"},"mark":{"type":"line","color":"#e3161c","strokeWidth":3,"interpolate":"monotone"},
"encoding":{"x":{"field":"t","type":"quantitative","scale":{"domain":[0,300],"nice":false,"zero":false},"axis":{"orient":"bottom","values":[25,75,125,175,225,275],"tickSize":-9,"tickWidth":1.2,"labels":false,"title":null}},
"y":{"field":"r","type":"quantitative","scale":{"domain":[-0.1215,0.1215],"nice":false,"zero":false},"axis":{"orient":"left","values":[-0.12,-0.11,-0.09,-0.08,-0.07,-0.06,-0.04,-0.03,-0.02,-0.01,0.01,0.02,0.03,0.04,0.06,0.07,0.08,0.09,0.11,0.12],"tickSize":-9,"tickWidth":1.2,"labels":false,"title":null}}}},
{"data":{"values":[{}]},"mark":{"type":"text","text":"β","font":"Liberation Serif","fontSize":42,"color":"black"},
"encoding":{"x":{"datum":19.3,"type":"quantitative","scale":{"domain":[0,300],"nice":false,"zero":false},"axis":{"orient":"top","values":[0,50,100,150,200,250,300],"tickSize":-19,"tickWidth":1.5,"labels":false,"title":null}},
"y":{"datum":0.067,"type":"quantitative","scale":{"domain":[-0.1215,0.1215],"nice":false,"zero":false},"axis":{"orient":"right","values":[-0.1,-0.05,0,0.05,0.1],"tickSize":-19,"tickWidth":1.5,"labels":false,"title":null}}}},
{"data":{"values":[{}]},"mark":{"type":"text","text":"831°C","font":"Liberation Serif","fontSize":42,"color":"black"},
"encoding":{"x":{"datum":51.8,"type":"quantitative","scale":{"domain":[0,300],"nice":false,"zero":false},"axis":{"orient":"top","values":[25,75,125,175,225,275],"tickSize":-9,"tickWidth":1.2,"labels":false,"title":null}},
"y":{"datum":-0.064,"type":"quantitative","scale":{"domain":[-0.1215,0.1215],"nice":false,"zero":false},"axis":{"orient":"right","values":[-0.12,-0.11,-0.09,-0.08,-0.07,-0.06,-0.04,-0.03,-0.02,-0.01,0.01,0.02,0.03,0.04,0.06,0.07,0.08,0.09,0.11,0.12],"tickSize":-9,"tickWidth":1.2,"labels":false,"title":null}}}}
],
"resolve":{"axis":{"x":"independent","y":"independent"}}}
]
}
